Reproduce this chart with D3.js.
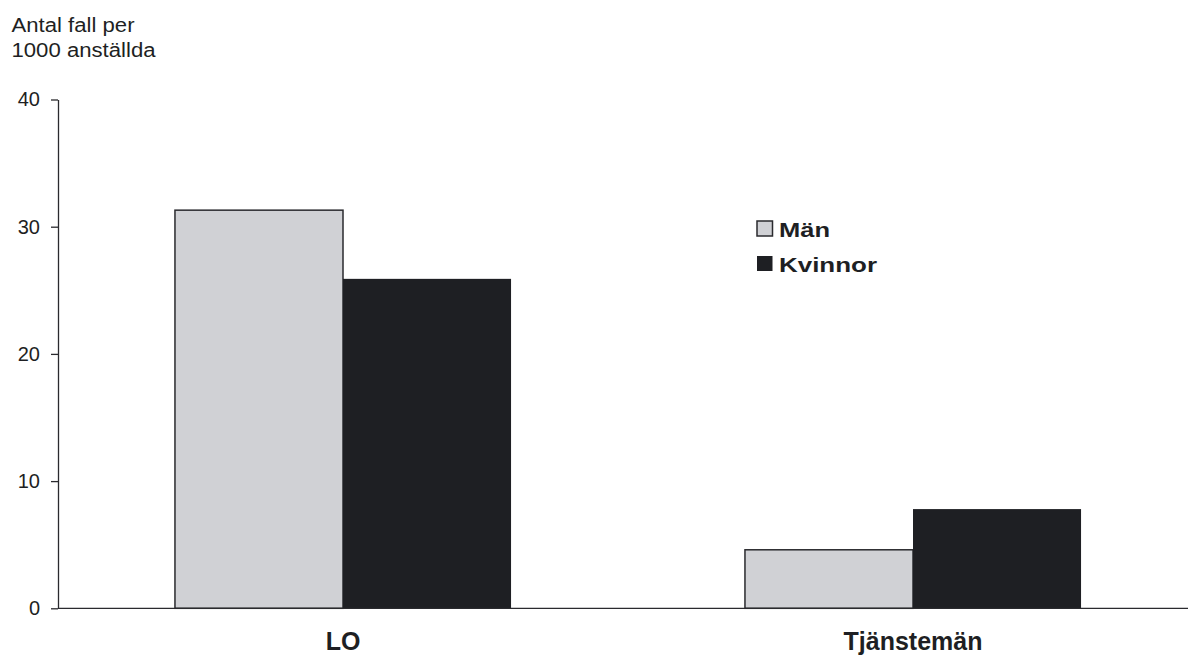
<!DOCTYPE html>
<html><head><meta charset="utf-8">
<script src="https://cdn.jsdelivr.net/npm/d3@7"></script>
<style>body{margin:0;background:#fff}svg{display:block}text{font-family:"Liberation Sans",Arial,sans-serif;fill:#1e1f23}</style>
</head><body><svg id="c" width="1188" height="656"></svg>
<script>
const categories = ["LO", "Tjänstemän"];
const seriesNames = ["Män", "Kvinnor"];
const manValues = [31.3, 4.6];
const kvinnorValues = [25.9, 7.8];
const yTicks = [0, 10, 20, 30, 40];
const yTitleLines = ["Antal fall per", "1000 anställda"];

const colors = {"Män": "#d0d1d5", "Kvinnor": "#1e1f23"};
const svg = d3.select("#c");

const y = d3.scaleLinear().domain([0, 40]).range([608.3, 99.5]);
const x0 = d3.scaleBand().domain(categories).range([58, 1198]).padding(0);
const x1 = d3.scaleBand().domain(seriesNames).range([0, x0.bandwidth()]).paddingInner(0).paddingOuter(0.696);

const data = categories.map((c, i) => ({cat: c, vals: [{s: "Män", v: manValues[i]}, {s: "Kvinnor", v: kvinnorValues[i]}]}));

// bars
const g = svg.append("g");
const groups = g.selectAll("g.grp").data(data).enter().append("g")
  .attr("transform", d => `translate(${x0(d.cat)},0)`);
groups.selectAll("rect").data(d => d.vals).enter().append("rect")
  .attr("x", d => x1(d.s))
  .attr("width", x1.bandwidth())
  .attr("y", d => y(d.v))
  .attr("height", d => y(0) - y(d.v))
  .attr("fill", d => colors[d.s])
  .attr("stroke", d => d.s === "Män" ? "#2a2a2e" : "none")
  .attr("stroke-width", 1.5);

// y axis
const ay = svg.append("g").attr("transform", "translate(58,0)")
  .call(d3.axisLeft(y).tickValues(yTicks).tickSize(7).tickSizeOuter(0).tickPadding(11));
ay.select(".domain").attr("stroke", "#2a2a2e").attr("stroke-width", 1.3);
ay.selectAll(".tick line").attr("stroke", "#2a2a2e").attr("stroke-width", 1.3);
ay.selectAll(".tick text").attr("font-size", 20).attr("font-family", "Liberation Sans, Arial, sans-serif").attr("fill", "#1e1f23");

// x baseline
svg.append("line").attr("x1", 58).attr("x2", 1188).attr("y1", y(0)).attr("y2", y(0))
  .attr("stroke", "#2a2a2e").attr("stroke-width", 1.3);

// category labels
svg.selectAll("text.cat").data(categories).enter().append("text")
  .attr("class", "cat")
  .attr("x", d => x0(d) + x0.bandwidth() / 2)
  .attr("y", 650)
  .attr("text-anchor", "middle")
  .attr("font-size", 25).attr("font-weight", "bold")
  .text(d => d);

// y title
const titleLens = [123, 144];
svg.selectAll("text.yt").data(yTitleLines).enter().append("text")
  .attr("class", "yt")
  .attr("x", 11.5)
  .attr("y", (d, i) => 32 + i * 25)
  .attr("font-size", 20)
  .attr("textLength", (d, i) => titleLens[i])
  .attr("lengthAdjust", "spacingAndGlyphs")
  .text(d => d);

// legend
const legLens = [51, 98];
const leg = svg.selectAll("g.leg").data(seriesNames).enter().append("g")
  .attr("transform", (d, i) => `translate(757,${221 + i * 35})`);
leg.append("rect").attr("width", 15.5).attr("height", 15)
  .attr("fill", d => colors[d])
  .attr("stroke", d => d === "Män" ? "#2a2a2e" : "none").attr("stroke-width", 1.5);
leg.append("text").attr("x", 22).attr("y", 16)
  .attr("font-size", 21).attr("font-weight", "bold")
  .attr("textLength", (d, i) => legLens[i])
  .attr("lengthAdjust", "spacingAndGlyphs")
  .text(d => d);
</script></body></html>
